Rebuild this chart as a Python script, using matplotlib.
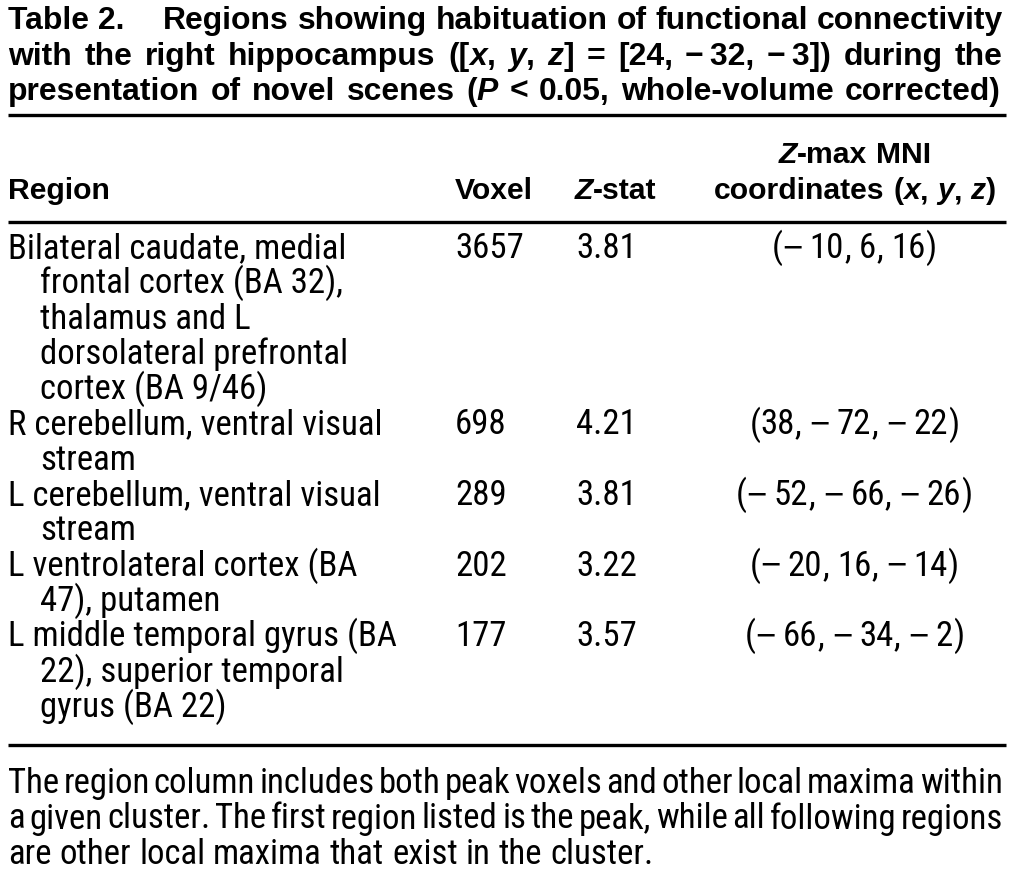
import matplotlib
matplotlib.use('Agg')
import matplotlib.pyplot as plt
from matplotlib import font_manager

# ---- table content ----
MINUS = "\u2212\u2009"
title_lines = [
    "Regions showing habituation of functional connectivity",
    f"with the right hippocampus ([*x*, *y*, *z*] = [24, {MINUS}32, {MINUS}3]) during the",
    "presentation of novel scenes (*P* < 0.05, whole-volume corrected)",
]
col_headers = ["Region", "Voxel", "*Z*-stat", "*Z*-max MNI", "coordinates (*x*, *y*, *z*)"]
regions = [
    ["Bilateral caudate, medial", "frontal cortex (BA 32),", "thalamus and L",
     "dorsolateral prefrontal", "cortex (BA 9/46)"],
    ["R cerebellum, ventral visual", "stream"],
    ["L cerebellum, ventral visual", "stream"],
    ["L ventrolateral cortex (BA", "47), putamen"],
    ["L middle temporal gyrus (BA", "22), superior temporal", "gyrus (BA 22)"],
]
voxels = [3657, 698, 289, 202, 177]
zstats = [3.81, 4.21, 3.81, 3.22, 3.57]
coords = [(-10, 6, 16), (38, -72, -22), (-52, -66, -26), (-20, 16, -14), (-66, -34, -2)]
footnote = [
    "The region column includes both peak voxels and other local maxima within",
    "a given cluster. The first region listed is the peak, while all following regions",
    "are other local maxima that exist in the cluster.",
]

# narrow face for body text, a wider bold face for the title and headers
fonts = font_manager.fontManager.ttflist
BODY = ['Liberation Sans', 'DejaVu Sans']
for pref in ['Liberation Sans Narrow', 'Roboto Condensed', 'Open Sans Condensed']:
    if any(f.name == pref for f in fonts):
        BODY = [pref, 'DejaVu Sans']
        break
BOLD = ['Liberation Sans', 'DejaVu Sans']
SIGN = ['Liberation Sans', 'DejaVu Sans']   # wider minus glyph for the coordinates

W, H = 1015, 884
fig = plt.figure(figsize=(W / 100, H / 100), dpi=100)
ax = fig.add_axes([0, 0, 1, 1])
ax.set_xlim(0, W)
ax.set_ylim(H, 0)
ax.axis('off')
renderer = fig.canvas.get_renderer()


def put(x, y, s, size, bold=False, italic=False, ha='left', fam=None):
    if fam is None:
        fam = BOLD if bold else BODY
    return ax.text(x, y, s, fontsize=size, family=fam, ha=ha, va='baseline',
                   fontweight='bold' if bold else 'normal',
                   fontstyle='italic' if italic else 'normal', color='black')


def measure(s, size, bold=False, italic=False, fam=None):
    t = put(0, 0, s, size, bold, italic, fam=fam)
    w = t.get_window_extent(renderer).width
    t.remove()
    return w


def parse(markup):
    # words -> list of (text, italic) runs, '*' toggles italics
    words, it = [], False
    for w in markup.split(' '):
        runs = []
        for i, part in enumerate(w.split('*')):
            if i > 0:
                it = not it
            if part:
                runs.append((part, it))
        words.append(runs)
    return words


def draw_line(x0, y, markup, size, bold=False, right=None, center=None):
    words = parse(markup)
    widths = [[measure(s, size, bold, it) for s, it in w] for w in words]
    total = sum(sum(w) for w in widths)
    space = measure('a a', size, bold) - measure('aa', size, bold)
    if right is not None and len(words) > 1:
        gap = (right - x0 - total) / (len(words) - 1)
    else:
        gap = space
    if center is not None:
        x0 = center - (total + gap * (len(words) - 1)) / 2
    x = x0
    for runs, ws in zip(words, widths):
        for (s, it), w in zip(runs, ws):
            put(x, y, s, size, bold, it)
            x += w
        x += gap


def draw_coord(cx, y, values, size):
    # "(−10, 6, 16)" with the minus signs set in a wider face
    segs = [("(", BODY)]
    for i, v in enumerate(values):
        if i:
            segs.append((",", BODY))
            segs.append((" ", BODY))
        if v < 0:
            segs.append(("\u2212", SIGN))
            segs.append(("\u2009", SIGN))
        segs.append((f"{abs(v)}", BODY))
    segs.append((")", BODY))
    ws = []
    for s, f in segs:
        if s.strip():
            ws.append(measure(s, size, fam=f))
        else:
            ws.append(measure("a" + s + "a", size, fam=f) - measure("aa", size, fam=f))
    x = cx - sum(ws) / 2
    for (s, f), w in zip(segs, ws):
        if s.strip():
            put(x, y, s, size, fam=f)
        x += w


# font sizes fitted to widths
body = 20 * 337 / measure("Bilateral caudate, medial", 20)
tsize = 20 * 838 / measure(title_lines[0], 20, bold=True)
hsize = 20 * 78 / measure("Voxel", 20, bold=True)

# ---- title ----
put(8, 29, "Table 2.", tsize, bold=True)
draw_line(163, 29, title_lines[0], tsize, bold=True, right=1003)
draw_line(8, 65, title_lines[1], tsize, bold=True, right=1003)
draw_line(8, 100, title_lines[2], tsize, bold=True, right=1001)

ax.plot([8, 1006], [115, 115], color='black', lw=2.4, solid_capstyle='butt')

# ---- header ----
hy = 199
put(8, hy, col_headers[0], hsize, bold=True)
put(455, hy, col_headers[1], hsize, bold=True)
draw_line(575, hy, col_headers[2], hsize, bold=True)
draw_line(0, hy - 36, col_headers[3], hsize, bold=True, center=855)
draw_line(0, hy, col_headers[4], hsize, bold=True, center=855)

ax.plot([8, 1006], [222, 222], color='black', lw=2.4, solid_capstyle='butt')

# ---- body ----
y0, step = 258, 35.3
k = 0
for reg, vox, z, c in zip(regions, voxels, zstats, coords):
    y = y0 + k * step
    put(455, y, f"{vox}", body)
    put(576, y, f"{z:.2f}", body)
    draw_coord(854, y, c, body)
    for j, line in enumerate(reg):
        put(8 if j == 0 else 40, y0 + (k + j) * step, line, body)
    k += len(reg)

ax.plot([8, 1006], [745, 745], color='black', lw=2.4, solid_capstyle='butt')

# ---- footnote ----
draw_line(8, 793, footnote[0], body, right=1003)
draw_line(8, 828.5, footnote[1], body, right=1003)
draw_line(8, 864, footnote[2], body)

fig.savefig('out.png', dpi=100, facecolor='white')
